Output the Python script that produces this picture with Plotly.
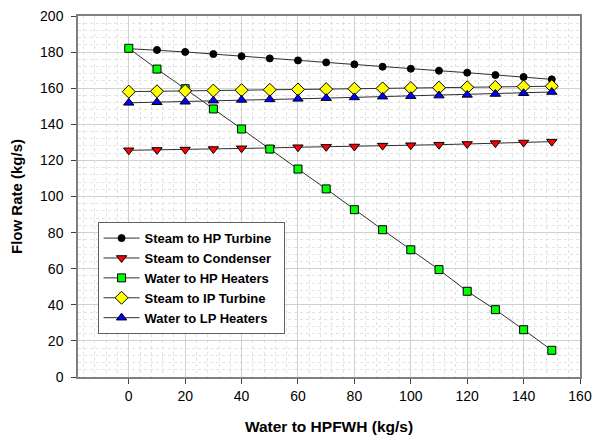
import plotly.graph_objects as go

water_hpfwh = [0, 10, 20, 30, 40, 50, 60, 70, 80, 90, 100, 110, 120, 130, 140, 150]
steam_hp_turbine = [181.9, 181.2, 180.1, 178.9, 177.7, 176.5, 175.4, 174.3, 173.2, 171.9, 170.8, 169.7, 168.6, 167.3, 166.2, 164.9]
steam_condenser = [125.6, 125.8, 126.0, 126.3, 126.7, 126.9, 127.3, 127.5, 127.7, 128.2, 128.4, 128.7, 129.1, 129.6, 129.9, 130.4]
water_hp_heaters = [182.1, 170.6, 159.7, 148.5, 137.4, 126.3, 115.2, 104.2, 92.7, 81.6, 70.5, 59.5, 47.5, 37.3, 26.2, 14.8]
steam_ip_turbine = [158.1, 158.3, 158.5, 158.7, 158.9, 159.1, 159.3, 159.5, 159.7, 159.9, 160.1, 160.3, 160.5, 160.7, 160.9, 161.1]
water_lp_heaters = [151.9, 152.2, 152.5, 153.1, 153.5, 153.8, 154.1, 154.5, 154.9, 155.3, 155.6, 155.9, 156.3, 156.8, 157.2, 157.9]

series = [
    ("Steam to HP Turbine", steam_hp_turbine, "circle", "#000000", 7),
    ("Steam to Condenser", steam_condenser, "triangle-down", "#ff0000", 9),
    ("Water to HP Heaters", water_hp_heaters, "square", "#00ff00", 8),
    ("Steam to IP Turbine", steam_ip_turbine, "diamond", "#ffff00", 10),
    ("Water to LP Heaters", water_lp_heaters, "triangle-up", "#0000ff", 9),
]

FONT = "Liberation Sans, Arial, sans-serif"
PAD = "\u00a0\u00a0"

fig = go.Figure()
for name, vals, sym, col, sz in series:
    fig.add_trace(go.Scatter(
        x=water_hpfwh, y=vals, name="<b>" + name + "</b>" + PAD, mode="lines+markers",
        line=dict(color="#303030", width=1),
        marker=dict(symbol=sym, color=col, size=sz, line=dict(color="#000000", width=1)),
    ))

axis_common = dict(
    showline=True, linecolor="#808080", linewidth=1.5, mirror=True,
    ticks="outside", ticklen=5, tickcolor="#404040", tickwidth=1,
    showgrid=True, gridcolor="#d0d0d0", gridwidth=1,
    zeroline=False, automargin=False,
    tickfont=dict(family=FONT, size=14, color="#000000"),
    minor=dict(showgrid=True, gridcolor="#e2e2e2", griddash="dot", gridwidth=1, dtick=4, ticks=""),
)

fig.update_xaxes(
    range=[-18, 160], tickmode="array", tickvals=[0, 20, 40, 60, 80, 100, 120, 140, 160],
    title=dict(text="<b>Water to HPFWH (kg/s)</b>", font=dict(family=FONT, size=15.5, color="#000000"), standoff=19),
    **axis_common,
)
fig.update_yaxes(
    range=[0, 200], dtick=20, ticklabelstandoff=5,
    title=dict(text="<b>Flow Rate (kg/s)</b>", font=dict(family=FONT, size=15, color="#000000"), standoff=14),
    **axis_common,
)

fig.update_layout(
    width=606, height=439,
    margin=dict(l=78, r=26, t=16, b=62),
    paper_bgcolor="#ffffff", plot_bgcolor="#ffffff",
    showlegend=True,
    legend=dict(
        x=0.039, y=0.429, xanchor="left", yanchor="top",
        bgcolor="#ffffff", bordercolor="#606060", borderwidth=1,
        font=dict(family=FONT, size=13, color="#000000"),
        tracegroupgap=0, itemwidth=36,
    ),
)

fig.write_html("out.html", config={"displayModeBar": False},
               post_script="document.body.style.margin='0';")
